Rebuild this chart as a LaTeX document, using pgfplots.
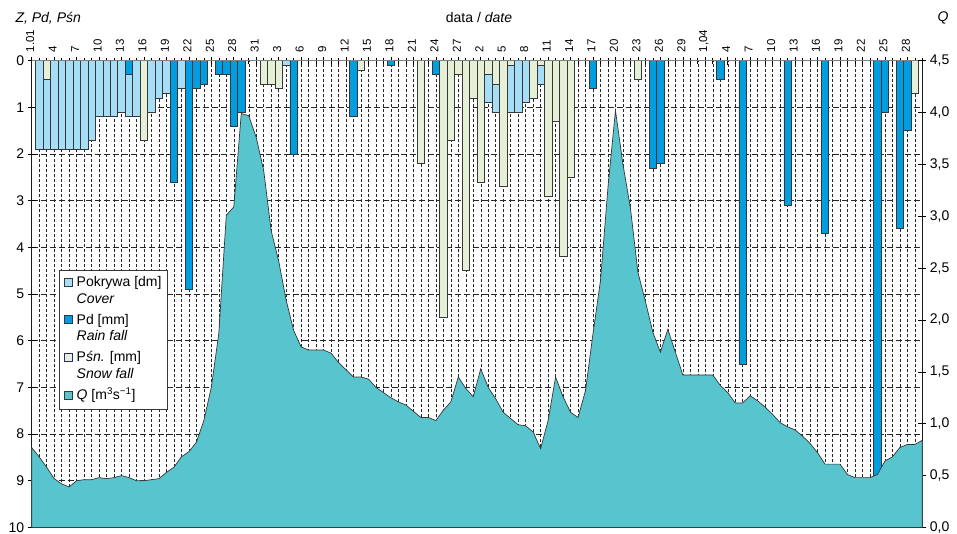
\documentclass[border=0pt]{standalone}
\usepackage{fontspec}
\setmainfont{Liberation Sans}
\usepackage{pgfplots}
\usepackage{pgfplotstable}
\pgfplotsset{compat=1.18}

\definecolor{covc}{RGB}{166,222,247}
\definecolor{rainc}{RGB}{0,157,224}
\definecolor{snowc}{RGB}{229,240,214}
\definecolor{qc}{RGB}{88,196,206}
\definecolor{edgec}{RGB}{55,55,55}
\definecolor{snowedge}{RGB}{40,40,110}

\newcommand{\swatch}[2]{\raisebox{0.8pt}{\setlength{\fboxsep}{0pt}\setlength{\fboxrule}{0.6pt}\fcolorbox{#1}{#2}{\rule{0pt}{7.4pt}\hspace{7.4pt}}}}

% Pokrywa (cover) [dm], day index k (0 = 1 Jan)
\pgfplotstableread{
k L
1 1.9
2 1.9
3 1.9
4 1.9
5 1.9
6 1.9
7 1.9
8 1.7
9 1.2
10 1.2
11 1.2
12 1.1
13 1.2
14 1.2
16 1.1
17 0.8
18 0.7
20 0.6
34 0.1
61 0.9
62 1.1
64 1.1
65 1.1
66 0.9
68 0.5
}\cover

% Pd (rain) [mm]
\pgfplotstableread{
k L
13 0.3
19 2.6
21 4.9
22 0.6
23 0.5
25 0.3
26 0.3
27 1.4
28 1.1
35 2.0
43 1.2
48 0.1
54 0.3
75 0.6
83 2.3
84 2.2
92 0.4
95 6.5
101 3.1
106 3.7
113 8.9
114 1.1
116 3.6
117 1.5
}\rain

% Psn (snow) [mm]
\pgfplotstableread{
k L
2 0.4
15 1.7
31 0.5
32 0.5
33 0.6
44 0.2
52 2.2
55 5.5
56 1.7
57 0.3
58 4.5
59 0.8
60 2.6
61 0.3
62 0.5
63 2.7
64 0.1
67 0.8
68 0.1
69 2.9
70 1.3
71 4.2
72 2.5
81 0.4
118 0.7
}\snow

% Q [m3/s]
\pgfplotstableread{
k Q
0 0.77
1 0.68
2 0.58
3 0.47
4 0.42
5 0.39
6 0.45
7 0.46
8 0.46
9 0.48
10 0.47
11 0.48
12 0.50
13 0.48
14 0.45
15 0.45
16 0.46
17 0.47
18 0.53
19 0.58
20 0.68
21 0.73
22 0.82
23 1.03
24 1.35
25 1.87
26 3.01
27 3.09
28 3.99
29 3.97
30 3.76
31 3.44
32 2.86
33 2.57
34 2.19
35 1.90
36 1.74
37 1.71
38 1.71
39 1.71
40 1.68
41 1.59
42 1.52
43 1.45
44 1.45
45 1.43
46 1.35
47 1.30
48 1.25
49 1.21
50 1.18
51 1.12
52 1.06
53 1.06
54 1.03
55 1.13
56 1.21
57 1.45
58 1.34
59 1.26
60 1.53
61 1.35
62 1.24
63 1.11
64 1.05
65 0.99
66 0.98
67 0.92
68 0.76
69 1.03
70 1.45
71 1.26
72 1.11
73 1.06
74 1.32
75 1.87
76 2.38
77 3.28
78 4.02
79 3.50
80 3.08
81 2.46
82 2.18
83 1.88
84 1.69
85 1.91
86 1.69
87 1.47
88 1.47
89 1.47
90 1.47
91 1.47
92 1.37
93 1.30
94 1.20
95 1.20
96 1.27
97 1.22
98 1.16
99 1.09
100 1.01
101 0.97
102 0.94
103 0.88
104 0.81
105 0.72
106 0.61
107 0.61
108 0.61
109 0.51
110 0.48
111 0.48
112 0.48
113 0.51
114 0.64
115 0.68
116 0.77
117 0.80
118 0.80
119 0.84
}\qtab

\begin{document}
\begin{tikzpicture}
\pgfplotsset{
  common/.style={
    at={(31.7pt,6.6pt)}, anchor=south west,
    scale only axis, width=890.6pt, height=466.7pt,
    xmin=0, xmax=119,
    /pgf/number format/assume math mode=true,
    tick style={black, line width=0.6pt},
    tick align=center,
    major tick length=8pt, minor tick length=6pt,
  },
  barstyle/.style={ybar, bar width=1, bar shift=0pt, draw=edgec, line width=0.6pt},
}
\begin{axis}[common,
  ymin=-10, ymax=0,
  axis line style={black!90, line width=0.8pt},
  xtick={0,3,...,117},
  xticklabels={1.01,4,7,10,13,16,19,22,25,28,31,3,6,9,12,15,18,21,24,27,2,5,8,11,14,17,20,23,26,29,{1,04},4,7,10,13,16,19,22,25,28},
  minor xtick={0,...,119},
  xtick pos=right, xticklabel pos=right,
  x tick label style={rotate=90, anchor=west, font=\fontsize{11.5}{11.5}\selectfont, xshift=1pt, yshift=1.5pt},
  ytick={-10,-9,-8,-7,-6,-5,-4,-3,-2,-1,0},
  yticklabels={10,9,8,7,6,5,4,3,2,1,0},
  ytick pos=left,
  y tick label style={font=\fontsize{14}{14}\selectfont},
  xmajorgrids, xminorgrids, ymajorgrids,
  every axis x grid/.append style={black!85, line width=0.45pt, dash pattern=on 3pt off 2pt},
  every axis y grid/.append style={black!85, line width=0.7pt, dash pattern=on 6pt off 3pt},
]
\addplot[barstyle, fill=covc] table[x=k, y expr=-\thisrow{L}] {\cover};
\addplot[barstyle, fill=rainc] table[x=k, y expr=-\thisrow{L}] {\rain};
\addplot[barstyle, fill=snowc] table[x=k, y expr=-\thisrow{L}] {\snow};
\draw[black!50, line width=1.6pt] (axis cs:0,0) -- (axis cs:119,0);
\end{axis}

\begin{axis}[common,
  ymin=0, ymax=4.5,
  axis y line*=right, axis x line=none,
  axis line style={black!90, line width=0.8pt},
  ytick={0,0.5,1,1.5,2,2.5,3,3.5,4,4.5},
  yticklabel style={font=\fontsize{14}{14}\selectfont,
    /pgf/number format/.cd, fixed, fixed zerofill, precision=1, use comma},
]
\addplot[fill=qc, draw=edgec, line width=0.7pt] table[x=k, y=Q] {\qtab} \closedcycle;
\end{axis}

% legend box
\node[draw=edgec, line width=0.6pt, fill=white, anchor=north west,
      inner xsep=5.3pt, inner ysep=4.6pt, font=\fontsize{14}{16.7}\selectfont]
  at (58.7pt,264pt) {%
  \begin{tabular}{@{}l@{\hspace{3.8pt}}l@{}}
  \swatch{edgec}{covc} & Pokrywa [dm]\\
   & \textit{Cover}\\[4.1pt]
  \swatch{edgec}{rainc} & Pd [mm]\\
   & \textit{Rain fall}\\[4.1pt]
  \swatch{snowedge}{snowc} & P\textit{śn.} [mm]\\
   & \textit{Snow fall}\\[4.1pt]
  \swatch{edgec}{qc} & \textit{Q} [m\textsuperscript{3}s\textsuperscript{−1}]
  \end{tabular}};

\node[anchor=west, font=\fontsize{14}{14}\selectfont] at (12pt,516pt) {\textit{Z, Pd, Pśn}};
\node[font=\fontsize{14}{14}\selectfont] at (479pt,516pt) {data / \textit{date}};
\node[font=\fontsize{14}{14}\selectfont] at (943pt,516pt) {\textit{Q}};

\pgfresetboundingbox
\path[use as bounding box] (0pt,0pt) rectangle (957pt,534pt);
\end{tikzpicture}
\end{document}
